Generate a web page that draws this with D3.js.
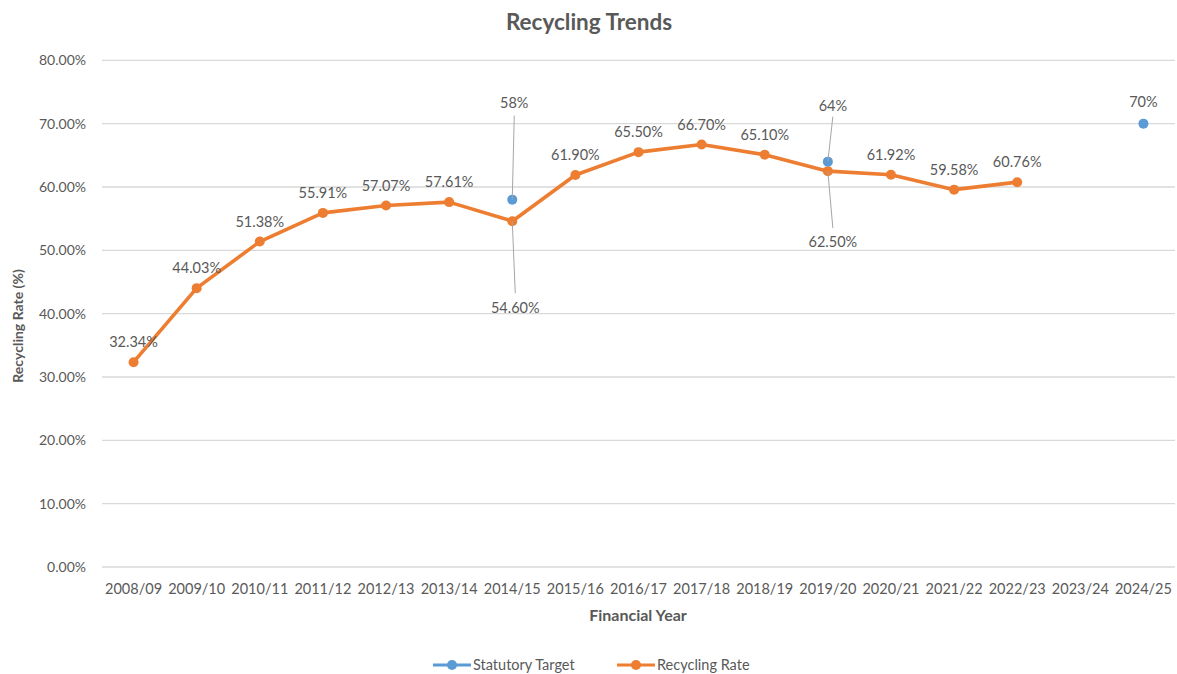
<!DOCTYPE html>
<html><head><meta charset="utf-8">
<script src="https://cdn.jsdelivr.net/npm/d3@7"></script>
<style>body{margin:0;background:#fff}svg{display:block}text{font-family:Lato,"Open Sans",sans-serif;fill:#595959}</style>
</head><body>
<svg id="c" width="1177" height="674"></svg>
<script>
const years = ["2008/09","2009/10","2010/11","2011/12","2012/13","2013/14","2014/15","2015/16","2016/17","2017/18","2018/19","2019/20","2020/21","2021/22","2022/23","2023/24","2024/25"];
const recyclingRate = [32.34,44.03,51.38,55.91,57.07,57.61,54.60,61.90,65.50,66.70,65.10,62.50,61.92,59.58,60.76,null,null];
const statutoryTarget = [null,null,null,null,null,null,58,null,null,null,null,64,null,null,null,null,70];
const yTicks = [0,10,20,30,40,50,60,70,80];

const svg = d3.select("#c");
const L=102,R=1175,T=60.3,B=567;
const x = d3.scaleBand().domain(years).range([L,R]);
const y = d3.scaleLinear().domain([0,80]).range([B,T]);
const cx = d => x(d)+x.bandwidth()/2;
const orange="#ED7D31", blue="#5B9BD5";
const LF=14.5;

svg.append("text").attr("x",589).attr("y",30).attr("text-anchor","middle").attr("font-size",22.5).attr("font-weight","bold").text("Recycling Trends");

// grid
svg.append("g").selectAll("line").data(yTicks).join("line")
 .attr("x1",L).attr("x2",R).attr("y1",d=>y(d)).attr("y2",d=>y(d))
 .attr("stroke","#d9d9d9").attr("stroke-width",1.3);
svg.append("g").selectAll("text").data(yTicks).join("text")
 .attr("x",86).attr("y",d=>y(d)+5).attr("text-anchor","end").attr("font-size",14)
 .text(d=>d.toFixed(2)+"%");
svg.append("g").selectAll("text").data(years).join("text")
 .attr("x",d=>cx(d)).attr("y",594).attr("text-anchor","middle").attr("font-size",14.5)
 .text(d=>d);

svg.append("text").attr("transform","translate(23,326) rotate(-90)").attr("text-anchor","middle")
 .attr("font-size",14).attr("font-weight","bold").text("Recycling Rate (%)");
svg.append("text").attr("x",638).attr("y",621).attr("text-anchor","middle")
 .attr("font-size",16).attr("font-weight","bold").text("Financial Year");

const rr = years.map((d,i)=>({d,v:recyclingRate[i]})).filter(p=>p.v!=null);
const st = years.map((d,i)=>({d,v:statutoryTarget[i]})).filter(p=>p.v!=null);

svg.append("path").datum(rr).attr("fill","none").attr("stroke",orange).attr("stroke-width",3.6)
 .attr("stroke-linejoin","round")
 .attr("d",d3.line().x(p=>cx(p.d)).y(p=>y(p.v)));
svg.append("g").selectAll("circle").data(rr).join("circle")
 .attr("cx",p=>cx(p.d)).attr("cy",p=>y(p.v)).attr("r",5).attr("fill",orange);
svg.append("g").selectAll("circle").data(st).join("circle")
 .attr("cx",p=>cx(p.d)).attr("cy",p=>y(p.v)).attr("r",5).attr("fill",blue);

// labels
rr.forEach(p=>{
  const px=cx(p.d), py=y(p.v);
  if(p.d==="2014/15"){
    svg.append("line").attr("x1",px).attr("y1",py).attr("x2",px+3).attr("y2",py+72)
      .attr("stroke","#a6a6a6").attr("stroke-width",1);
    svg.append("text").attr("x",px+3).attr("y",py+92).attr("text-anchor","middle").attr("font-size",LF).text(p.v.toFixed(2)+"%");
  } else if(p.d==="2019/20"){
    svg.append("line").attr("x1",px).attr("y1",py).attr("x2",px+5).attr("y2",py+57)
      .attr("stroke","#a6a6a6").attr("stroke-width",1);
    svg.append("text").attr("x",px+5).attr("y",py+76).attr("text-anchor","middle").attr("font-size",LF).text(p.v.toFixed(2)+"%");
  } else {
    svg.append("text").attr("x",px).attr("y",py-15).attr("text-anchor","middle").attr("font-size",LF).text(p.v.toFixed(2)+"%");
  }
});
st.forEach(p=>{
  const px=cx(p.d), py=y(p.v);
  if(p.d==="2014/15"){
    svg.append("line").attr("x1",px).attr("y1",py).attr("x2",px+2).attr("y2",py-84).attr("stroke","#a6a6a6").attr("stroke-width",1);
    svg.append("text").attr("x",px+2).attr("y",py-92).attr("text-anchor","middle").attr("font-size",LF).text(p.v+"%");
  } else if(p.d==="2019/20"){
    svg.append("line").attr("x1",px).attr("y1",py).attr("x2",px+5).attr("y2",py-45).attr("stroke","#a6a6a6").attr("stroke-width",1);
    svg.append("text").attr("x",px+5).attr("y",py-51).attr("text-anchor","middle").attr("font-size",LF).text(p.v+"%");
  } else {
    svg.append("text").attr("x",px).attr("y",py-17).attr("text-anchor","middle").attr("font-size",LF).text(p.v+"%");
  }
});

// legend
const leg=[{n:"Statutory Target",c:blue,x:433},{n:"Recycling Rate",c:orange,x:617}];
leg.forEach(l=>{
  svg.append("line").attr("x1",l.x).attr("x2",l.x+38).attr("y1",665).attr("y2",665).attr("stroke",l.c).attr("stroke-width",3.2);
  svg.append("circle").attr("cx",l.x+19).attr("cy",665).attr("r",5).attr("fill",l.c);
  svg.append("text").attr("x",l.x+40).attr("y",670).attr("font-size",14.5).text(l.n);
});
</script>
</body></html>
